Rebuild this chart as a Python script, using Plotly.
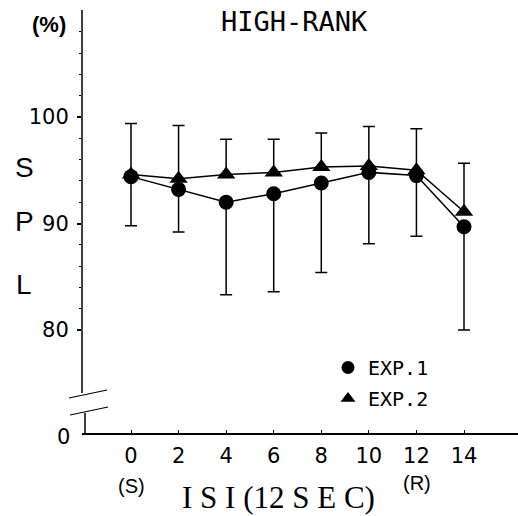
import plotly.graph_objects as go

# ---- data ----
isi = [0, 2, 4, 6, 8, 10, 12, 14]
exp1 = [94.4, 93.2, 92.0, 92.8, 93.8, 94.8, 94.5, 89.7]
exp2 = [94.6, 94.2, 94.6, 94.8, 95.3, 95.4, 95.0, 91.1]
exp2_err_up = [4.8, 5.0, 3.3, 3.1, 3.2, 3.7, 3.9, 4.55]
exp1_err_down = [4.6, 4.0, 8.7, 9.2, 8.4, 6.7, 5.7, 9.7]
x_ticks = [0, 2, 4, 6, 8, 10, 12, 14]
y_ticks = [80, 90, 100]
y_minor = [82, 84, 86, 88, 92, 94, 96, 98, 102, 104, 106, 108]
zeros = [0] * len(isi)

W, H = 518, 516
L, R, T, B = 82, 0, 10, 83
PW, PH = W - L - R, H - T - B


def px(x):
    return (x - L) / PW


def py(y):
    return (H - B - y) / PH


fig = go.Figure()

fig.add_trace(go.Scatter(
    x=isi, y=exp1, mode="lines+markers", name="EXP.1", showlegend=False,
    line=dict(color="black", width=1.5),
    marker=dict(symbol="circle", size=15, color="black"),
    error_y=dict(type="data", symmetric=False, array=zeros, arrayminus=exp1_err_down,
                 color="black", thickness=1.5, width=6),
))
fig.add_trace(go.Scatter(
    x=isi, y=exp2, mode="lines+markers", name="EXP.2", showlegend=False,
    line=dict(color="black", width=1.5),
    marker=dict(symbol="triangle-up", size=16, color="black"),
    error_y=dict(type="data", symmetric=False, array=exp2_err_up, arrayminus=zeros,
                 color="black", thickness=1.5, width=6),
))
# legend entries (markers only)
fig.add_trace(go.Scatter(x=[None], y=[None], mode="markers", name="EXP.1", legendgroup="a",
                         marker=dict(symbol="circle", size=13, color="black")))
fig.add_trace(go.Scatter(x=[None], y=[None], mode="markers", name="EXP.2", legendgroup="b",
                         marker=dict(symbol="triangle-up", size=13, color="black")))

ymin = 100 - (H - B - 117) / 10.65
ymax = 100 + (117 - T) / 10.65
xmin = -(131 - L) / 23.786
xmax = 14 + (W - R - 464) / 23.786

fig.update_xaxes(
    range=[xmin, xmax], showline=True, linecolor="black", linewidth=1.5,
    tickmode="array", tickvals=x_ticks, ticktext=[str(v) for v in x_ticks],
    ticks="inside", ticklen=3, tickcolor="black", tickwidth=1,
    tickfont=dict(family="DejaVu Sans", size=21, color="black"),
    showgrid=False, zeroline=False, ticklabelstandoff=3,
)
fig.update_yaxes(
    range=[ymin, ymax], showline=False,
    tickmode="array", tickvals=y_ticks, ticktext=[str(v) for v in y_ticks],
    ticks="outside", ticklen=4, tickcolor="black", tickwidth=1.5,
    tickfont=dict(family="DejaVu Sans", size=21, color="black"),
    minor=dict(tickmode="array", tickvals=y_minor, ticks="outside", ticklen=2,
               tickcolor="black", tickwidth=1),
    showgrid=False, zeroline=False, ticklabelstandoff=4,
)

shapes = [
    # y axis with break
    dict(type="line", xref="paper", yref="paper", x0=0, x1=0, y0=1, y1=py(393),
         line=dict(color="black", width=1.5)),
    dict(type="line", xref="paper", yref="paper", x0=px(85), x1=px(85), y0=py(413), y1=0,
         line=dict(color="black", width=1.5)),
    dict(type="line", xref="paper", yref="paper", x0=px(69), x1=px(107), y0=py(398), y1=py(390),
         line=dict(color="black", width=1.2)),
    dict(type="line", xref="paper", yref="paper", x0=px(70), x1=px(108), y0=py(415), y1=py(407),
         line=dict(color="black", width=1.2)),
]

ann = []


def add_text(text, x, y, size, family="Liberation Sans", xanchor="center", yanchor="middle",
             weight="normal"):
    ann.append(dict(text=text, x=px(x), y=py(y), xref="paper", yref="paper", showarrow=False,
                    xanchor=xanchor, yanchor=yanchor,
                    font=dict(family=family, size=size, color="black", weight=weight)))


add_text("HIGH-RANK", 294, 21, 27, family="DejaVu Sans Mono")
add_text("(%)", 49, 24, 22, weight="bold")
add_text("S", 24, 167, 28)
add_text("P", 24, 221, 28)
add_text("L", 24, 284, 28)
add_text("0", 72, 437, 21, family="DejaVu Sans", xanchor="right")
add_text("(S)", 131, 486, 20)
add_text("(R)", 417, 483, 20)
add_text("I S I (12 S E C)", 278, 497, 31, family="Liberation Serif")

fig.update_layout(
    width=W, height=H, margin=dict(l=L, r=R, t=T, b=B),
    paper_bgcolor="white", plot_bgcolor="white",
    shapes=shapes, annotations=ann,
    legend=dict(x=px(328), y=py(348), xanchor="left", yanchor="top",
                font=dict(family="DejaVu Sans Mono", size=20, color="black"),
                bgcolor="rgba(0,0,0,0)", tracegroupgap=2, itemwidth=30),
)

fig.write_html("out.html")
